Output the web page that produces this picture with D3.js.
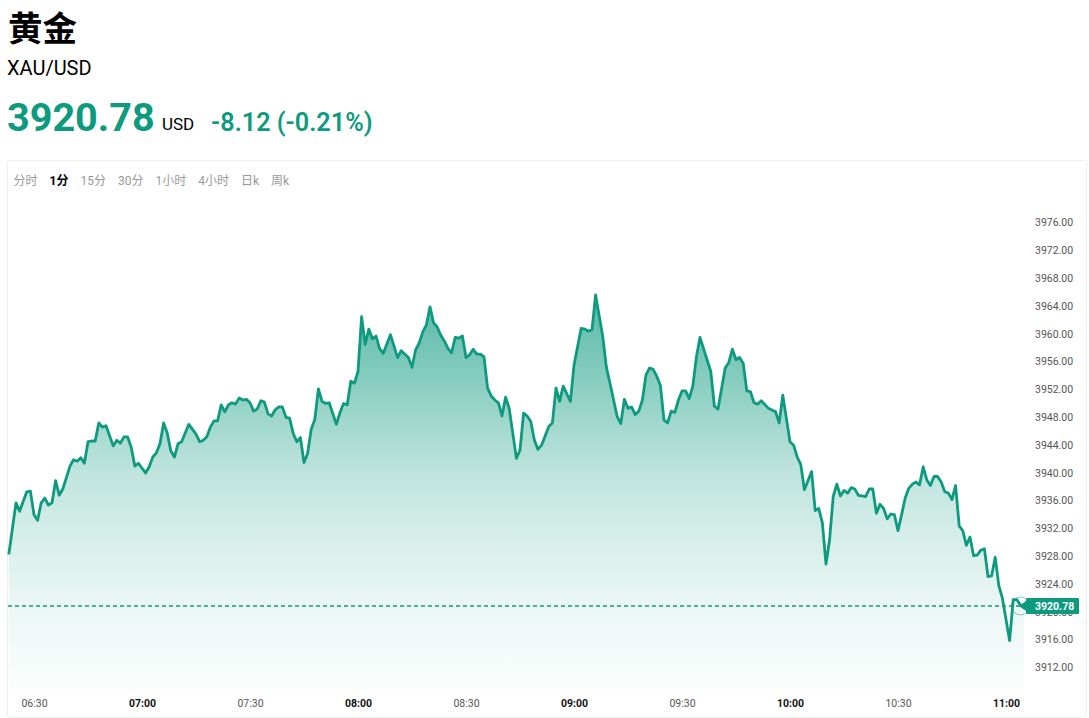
<!DOCTYPE html>
<html>
<head>
<meta charset="utf-8">
<script src="https://cdn.jsdelivr.net/npm/d3@7"></script>
<style>
  html, body { margin: 0; padding: 0; background: #fff; }
  svg { display: block; font-family: Roboto, "Noto Sans CJK SC", sans-serif; }
  .domain, .tick line { display: none; }
</style>
</head>
<body>
<svg id="chart" width="1089" height="718"></svg>
<script>
// minutes after 06:00 for each reading
var minutes = [23,25,26,28,29,30,31,32,33,34,35,36,37,38,40,41,42,43,44,45,46,47,48,49,50,52,53,54,55,56,57,58,59,61,62,63,64,65,66,67,68,69,70,71,73,75,76,77,78,79,80,81,82,83,84,85,86,87,88,89,90,91,92,93,94,95,
  96,97,98,99,100,101,102,103,104,105,106,107,108,109,110,111,112,114,115,116,117,118,119,120,121,122,123,124,125,126,127,129,131,132,134,135,136,137,138,139,140,141,142,143,144,145,146,147,148,149,150,151,152,153,154,155,156,157,158,159,160,161,162,163,164,165,166,167,168,169,170,
  171,173,174,175,176,177,179,180,181,182,183,184,185,186,188,189,190,191,192,193,194,195,196,197,198,199,200,201,202,203,204,205,206,207,208,209,210,211,212,213,214,215,218,219,220,222,223,224,225,226,227,228,229,230,231,232,234,236,237,238,240,241,242,243,244,246,247,248,249,250,
  251,252,253,254,255,256,257,258,259,260,261,262,263,264,265,266,267,268,269,270,271,272,273,274,275,276,277,278,279,280,281,282,283,284,285,286,287,288,289,290,291,292,293,294,295,296,297,298,299,301,302,303,304,305];

var prices = [3928.2,3935.6,3934.4,3937.2,3937.3,3933.9,3933.1,3935.6,3936.3,3935.3,3935.6,3938.8,3936.7,3937.6,3940.9,3941.8,3941.6,3942.1,3941.3,3944.4,3944.5,3944.5,3947.1,3946.5,3946.7,3943.8,3944.6,3944.2,3945.1,3945.1,3943.6,3940.9,3941.3,3939.9,3940.8,3942.2,3942.8,3944.1,3947.1,3945.7,3943.1,3942.2,3944.1,3944.4,3946.9,3945.5,3944.4,3944.6,3945.1,3946.5,3947.4,3947.4,3949.7,3948.7,3949.7,3950.0,3949.8,3950.7,3950.4,3950.5,3950.0,3948.8,3949.1,3950.3,3950.1,3948.4,
  3948.1,3949.0,3949.4,3949.4,3947.9,3947.8,3945.6,3944.4,3945.0,3941.4,3942.7,3946.2,3947.6,3952.0,3950.2,3949.9,3950.0,3946.9,3948.6,3949.9,3949.7,3953.1,3952.8,3954.5,3962.4,3958.4,3960.6,3959.2,3959.6,3957.8,3957.1,3959.8,3956.5,3957.5,3956.5,3955.1,3957.6,3958.6,3960.2,3961.2,3963.8,3961.5,3960.9,3959.7,3958.9,3957.8,3957.2,3959.4,3959.3,3959.6,3956.5,3956.9,3957.7,3957.0,3957.0,3956.6,3952.1,3951.0,3950.4,3950.0,3948.1,3950.8,3949.2,3945.6,3942.0,3943.2,3948.5,3948.1,3947.3,3944.6,3943.3,
  3943.9,3946.6,3947.1,3952.1,3950.2,3952.4,3950.2,3955.4,3958.1,3960.7,3960.6,3960.3,3960.5,3965.5,3959.5,3955.1,3952.8,3950.4,3948.0,3947.0,3950.5,3949.2,3949.4,3948.3,3948.8,3950.4,3954.0,3955.0,3954.8,3953.8,3952.5,3947.5,3947.1,3948.8,3948.6,3950.4,3951.7,3951.7,3950.6,3952.4,3956.6,3959.4,3954.5,3949.5,3949.1,3955.0,3955.8,3957.7,3956.2,3956.5,3955.7,3951.7,3951.6,3950.0,3949.8,3950.3,3949.2,3948.7,3947.1,3951.1,3944.4,3943.9,3942.2,3941.1,3937.5,3940.1,3934.5,3934.8,3932.7,3926.8,
  3930.3,3936.5,3938.3,3936.6,3937.4,3937.0,3937.8,3937.6,3936.7,3936.6,3936.5,3937.6,3937.6,3934.1,3935.4,3934.8,3933.3,3934.0,3933.9,3931.6,3933.9,3936.3,3937.7,3938.3,3938.6,3938.2,3940.8,3938.9,3938.1,3939.4,3939.4,3938.6,3937.2,3937.0,3936.1,3938.1,3932.3,3931.6,3929.5,3930.7,3928.0,3928.1,3928.8,3929.0,3925.0,3925.1,3927.8,3923.7,3921.9,3915.8,3921.7,3921.7,3920.9,3920.78];

var priceTicks = [3976,3972,3968,3964,3960,3956,3952,3948,3944,3940,3936,3932,3928,3924,3920,3916,3912];
var timeTicks = ["06:30","07:00","07:30","08:00","08:30","09:00","09:30","10:00","10:30","11:00"];
var tabs = ["分时","1分","15分","30分","1小时","4小时","日k","周k"];
var lastPrice = 3920.78;

var green = "#0e9a7f";
var parseTime = d3.utcParse("%H:%M");
var base = parseTime("06:00");
var series = minutes.map(function(m, i) {
    return { t: d3.utcMinute.offset(base, m), v: prices[i] };
});

var svg = d3.select("#chart");

// header
function label(x, y, txt, size, weight, fill) {
    return svg.append("text").attr("x", x).attr("y", y).text(txt)
        .attr("font-size", size).attr("font-weight", weight).attr("fill", fill);
}
label(8, 41, "黄金", 34.5, 700, "#000").attr("font-family", "'Noto Sans CJK SC'");
label(7, 75, "XAU/USD", 20, 400, "#000");
label(7, 131, "3920.78", 39.6, 700, green);
label(162, 130, "USD", 17, 400, "#000");
label(211, 131, "-8.12 (-0.21%)", 25.2, 600, green);

// card
svg.append("rect").attr("x", 7.5).attr("y", 160.5).attr("width", 1079).attr("height", 557)
    .attr("rx", 3).attr("fill", "#fff").attr("stroke", "#eeeeee");

// period tabs, laid out one after the other
var tabX = 13.5;
tabs.forEach(function(t, i) {
    var el = label(tabX, 185, t, 12, i == 1 ? 700 : 400, i == 1 ? "#000" : "#999");
    tabX += el.node().getComputedTextLength() + 12;
});

var x = d3.scaleUtc().domain([parseTime("06:30"), parseTime("11:00")]).range([34, 1006]);
var y = d3.scaleLinear().domain([3912, 3976]).range([667, 222]);
var chartBottom = 690;

var defs = svg.append("defs");
var grad = defs.append("linearGradient").attr("id", "fade")
    .attr("gradientUnits", "userSpaceOnUse")
    .attr("x1", 0).attr("x2", 0).attr("y1", y(d3.max(prices))).attr("y2", chartBottom);
// the fade is not linear in the reference, it drops off slower near the bottom
[[0, 0.7], [0.114, 0.59], [0.468, 0.25], [0.595, 0.18], [0.785, 0.083], [1, 0.015]].forEach(function(s) {
    grad.append("stop").attr("offset", s[0]).attr("stop-color", green).attr("stop-opacity", s[1]);
});

var area = d3.area().x(function(d) { return x(d.t); }).y0(chartBottom).y1(function(d) { return y(d.v); });
var line = d3.line().x(function(d) { return x(d.t); }).y(function(d) { return y(d.v); });

// axes
var yAxis = d3.axisRight(y).tickValues(priceTicks).tickSize(0).tickPadding(0).tickFormat(d3.format(".2f"));
svg.append("g").attr("transform", "translate(1035,0.4)").call(yAxis)
    .selectAll("text").attr("font-size", 10.5).attr("fill", "#555").attr("font-family", "Roboto");

var xAxis = d3.axisBottom(x).tickValues(timeTicks.map(parseTime)).tickSize(0).tickPadding(0)
    .tickFormat(d3.utcFormat("%H:%M"));
svg.append("g").attr("transform", "translate(0,700)").call(xAxis)
    .selectAll("text")
    .attr("font-size", 10.5).attr("font-family", "Roboto")
    .attr("font-weight", function(d) { return d.getUTCMinutes() == 0 ? 700 : 400; })
    .attr("fill", function(d) { return d.getUTCMinutes() == 0 ? "#111" : "#555"; });

svg.append("path").datum(series).attr("d", area).attr("fill", "url(#fade)");
svg.append("path").datum(series).attr("d", line).attr("fill", "none")
    .attr("stroke", green).attr("stroke-width", 2.8).attr("stroke-linejoin", "round");

// last price marker
var lastY = y(lastPrice);
svg.append("line").attr("x1", 8).attr("x2", 1026).attr("y1", lastY).attr("y2", lastY)
    .attr("stroke", green).attr("stroke-width", 1.5).attr("stroke-dasharray", "4,3");

defs.append("clipPath").attr("id", "ringClip").append("rect")
    .attr("x", 1000).attr("y", 590).attr("width", 26).attr("height", 32);
svg.append("circle").attr("cx", 1020.5).attr("cy", lastY).attr("r", 9)
    .attr("fill", "none").attr("stroke", green).attr("stroke-opacity", 0.5)
    .attr("clip-path", "url(#ringClip)");

svg.append("path").attr("fill", green)
    .attr("d", "M1019," + lastY + "L1026," + (lastY - 5) + "L1026," + (lastY + 5) + "Z");
svg.append("rect").attr("x", 1026).attr("y", lastY - 8).attr("width", 53).attr("height", 16)
    .attr("rx", 1).attr("fill", green);
svg.append("text").attr("x", 1035).attr("y", lastY).attr("dy", "0.35em").text(lastPrice.toFixed(2))
    .attr("font-size", 10.5).attr("font-weight", 700).attr("fill", "#fff");
</script>
</body>
</html>
